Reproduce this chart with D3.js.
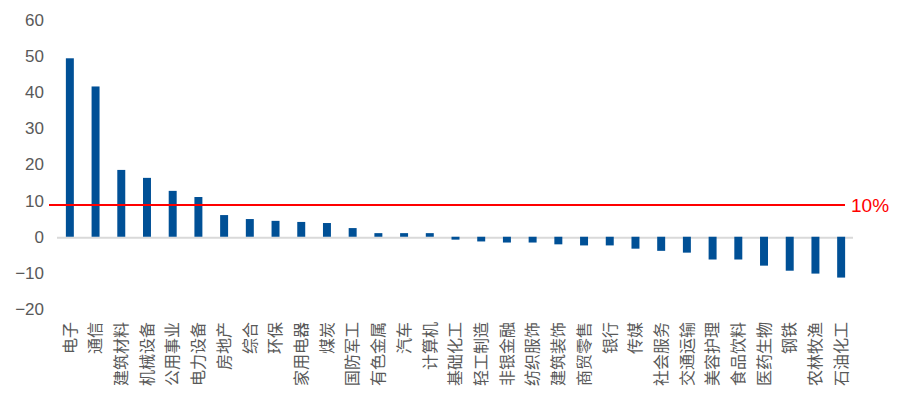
<!DOCTYPE html>
<html><head><meta charset="utf-8">
<script src="https://cdn.jsdelivr.net/npm/d3@7"></script>
<style>body{margin:0;background:#fff}svg{display:block}</style>
</head><body>
<svg id="c" width="913" height="420"></svg>
<script>
const categories = ["电子","通信","建筑材料","机械设备","公用事业","电力设备","房地产","综合","环保","家用电器","煤炭","国防军工","有色金属","汽车","计算机","基础化工","轻工制造","非银金融","纺织服饰","建筑装饰","商贸零售","银行","传媒","社会服务","交通运输","美容护理","食品饮料","医药生物","钢铁","农林牧渔","石油化工"];
const values = [49.4,41.6,18.5,16.3,12.7,11.0,6.0,4.9,4.4,4.1,3.8,2.4,1.0,1.0,1.0,-0.8,-1.3,-1.6,-1.6,-2.1,-2.4,-2.4,-3.3,-3.9,-4.4,-6.3,-6.3,-8.0,-9.4,-10.2,-11.3];
const yTicks = [-20,-10,0,10,20,30,40,50,60];
const thresholdValue = 8.8;
const thresholdLabel = "10%";

const svg = d3.select("#c");
const x = d3.scaleBand().domain(categories).range([57, 854]).paddingInner(0.69).paddingOuter(0.345);
const y = d3.scaleLinear().domain([-20, 60]).range([309, 20]);

// y axis
const yAxis = d3.axisLeft(y).tickValues(yTicks).tickSize(0).tickPadding(0).tickFormat(d3.format("d"));
const gy = svg.append("g").attr("transform", "translate(44,0)").call(yAxis);
gy.select(".domain").remove();
gy.selectAll("text").attr("font-family", "Arial, 'Liberation Sans', sans-serif").attr("font-size", 17).attr("fill", "#595959");

// zero line
svg.append("line").attr("x1", 57).attr("x2", 853).attr("y1", y(0) + 1).attr("y2", y(0) + 1)
  .attr("stroke", "#d9d9d9").attr("stroke-width", 2);

// bars
svg.append("g").selectAll("rect").data(values).join("rect")
  .attr("x", (d, i) => x(categories[i]))
  .attr("width", x.bandwidth())
  .attr("y", d => y(Math.max(0, d)))
  .attr("height", d => Math.abs(y(d) - y(0)))
  .attr("fill", "#005096");

// threshold line
svg.append("line").attr("x1", 49).attr("x2", 845).attr("y1", y(thresholdValue)).attr("y2", y(thresholdValue))
  .attr("stroke", "#ff0000").attr("stroke-width", 2);
svg.append("text").attr("x", 851).attr("y", y(thresholdValue)).attr("dy", "0.35em")
  .attr("font-family", "Arial, 'Liberation Sans', sans-serif").attr("font-size", 19).attr("fill", "#ff0000")
  .text(thresholdLabel);

// category labels
svg.append("g").selectAll("text").data(categories).join("text")
  .attr("transform", d => `translate(${x(d) + x.bandwidth() / 2},322) rotate(-90)`)
  .attr("text-anchor", "end").attr("dy", "0.36em")
  .attr("font-family", "'Noto Sans CJK SC', sans-serif").attr("font-size", 16).attr("fill", "#595959")
  .text(d => d);
</script>
</body></html>
